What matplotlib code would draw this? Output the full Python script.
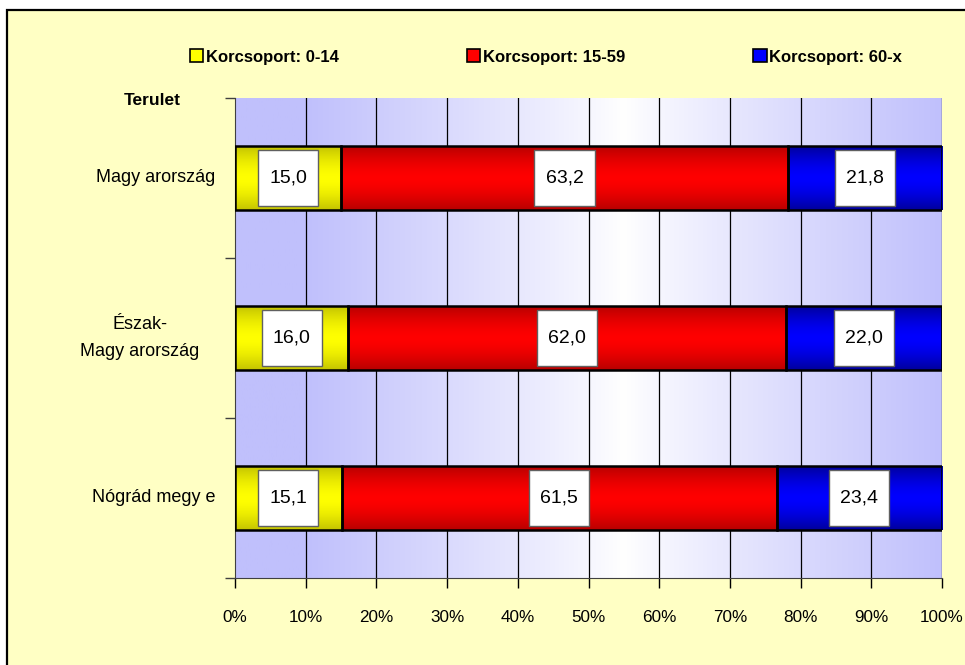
import numpy as np
import matplotlib
matplotlib.use('Agg')
from matplotlib import pyplot as plt
from matplotlib.patches import Rectangle, Patch
from matplotlib.colors import to_rgb

plt.rcParams['font.family'] = ['Liberation Sans', 'DejaVu Sans']

# data
regions = ['Magy arország', 'Észak-\nMagy arország', 'Nógrád megy e']
groups = ['Korcsoport: 0-14', 'Korcsoport: 15-59', 'Korcsoport: 60-x']
age_0_14 = [15.0, 16.0, 15.1]
age_15_59 = [63.2, 62.0, 61.5]
age_60_x = [21.8, 22.0, 23.4]
xticks = [0, 10, 20, 30, 40, 50, 60, 70, 80, 90, 100]

bright = ['#FFFF00', '#FF0000', '#0000FF']
dark = ['#C4C400', '#B80000', '#00009C']

fig = plt.figure(figsize=(9.65, 6.65), dpi=100)
fig.patch.set_facecolor('white')
fig.patches.append(Rectangle((7 / 965, -0.1), 1.2, 1.1 - 10 / 665, transform=fig.transFigure,
                             facecolor='#FFFFC4', edgecolor='black', lw=1.6, zorder=-10))

ax = fig.add_axes([235 / 965, 1 - 578 / 665, 707 / 965, 480 / 665])
ax.set_xlim(0, 100)
ax.set_ylim(-0.5, 2.5)
ax.patch.set_alpha(0)

# background: lavender - white - lavender
xs = np.linspace(0, 1, 400)
t = np.clip(np.abs(xs - 0.55) / 0.45, 0, 1) ** 0.9
lav = np.array(to_rgb('#C0C0FC'))
bg = (1 - t)[:, None] * np.ones(3) + t[:, None] * lav
ax.imshow(bg[None, :, :], extent=(0, 100, -0.5, 2.5), aspect='auto', zorder=0)

for x in xticks[1:]:
    ax.axvline(x, color='black', lw=0.9, zorder=1)

# bar gradient profile (dark edges, bright middle)
ys = np.linspace(0, 1, 100)
prof = np.clip(np.abs(ys - 0.5) * 2, 0, 1) ** 1.6

ypos = [2, 1, 0]
h = 0.4
series = [age_0_14, age_15_59, age_60_x]
for i, y in enumerate(ypos):
    left = 0
    for s, vals in enumerate(series):
        v = vals[i]
        b = np.array(to_rgb(bright[s]))
        d = np.array(to_rgb(dark[s]))
        grad = (1 - prof)[:, None] * b + prof[:, None] * d
        ax.imshow(grad[:, None, :], extent=(left, left + v, y - h / 2, y + h / 2),
                  aspect='auto', zorder=2)
        ax.add_patch(Rectangle((left, y - h / 2), v, h, fill=False, edgecolor='black',
                               lw=1.8, zorder=3))
        cx = left + v / 2
        bw, bh = 8.5, 0.35
        ax.add_patch(Rectangle((cx - bw / 2, y - bh / 2), bw, bh, facecolor='white',
                               edgecolor='#606060', lw=1, zorder=4))
        ax.text(cx, y, f'{v:.1f}'.replace('.', ','), ha='center', va='center',
                fontsize=14, zorder=5)
        left += v

ax.set_xticks(xticks)
ax.set_xticklabels([f'{x}%' for x in xticks], fontsize=12.3)
ax.tick_params(axis='x', length=7, width=1, color='black', pad=16)

# category labels (drawn next to the axis, y in data units)
ax.set_yticks([-0.5, 0.5, 1.5, 2.5])
ax.set_yticklabels([])
ax.tick_params(axis='y', length=7, width=1, color='#404040')
label_x = [-0.028, -0.05, -0.028]
for y, lab, lx in zip(ypos, regions, label_x):
    ax.text(lx, y, lab, transform=ax.get_yaxis_transform(), ha='right', va='center',
            multialignment='center', linespacing=1.8, fontsize=13)

for sp in ['top', 'right']:
    ax.spines[sp].set_visible(False)
ax.spines['left'].set_color('#404040')
ax.spines['bottom'].set_color('#404040')

ax.text(-0.117, 0.994, 'Terulet', transform=ax.transAxes, ha='center', va='center',
        fontsize=12.5, fontweight='bold')

handles = [Patch(facecolor=bright[s], edgecolor='black', lw=1.2) for s in range(3)]
fig.legend(handles, groups, loc='center left', bbox_to_anchor=(190 / 965, 1 - 57 / 665), ncol=3,
           frameon=False, prop={'weight': 'bold', 'size': 12}, borderpad=0, borderaxespad=0,
           handlelength=0.8, handleheight=0.8, handletextpad=0.15, columnspacing=7.7)

fig.savefig('out.png', dpi=100)
